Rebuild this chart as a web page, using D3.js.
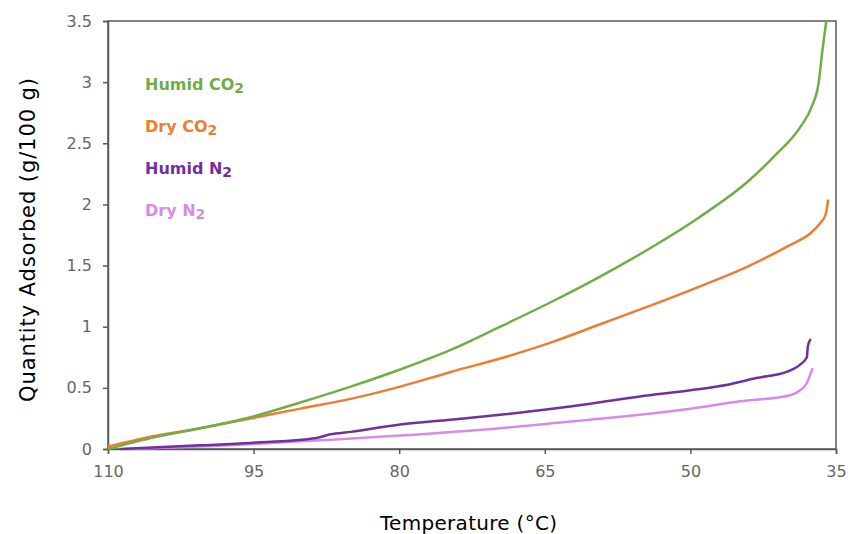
<!DOCTYPE html>
<html>
<head>
<meta charset="utf-8">
<script src="https://cdn.jsdelivr.net/npm/d3@7"></script>
<style>
  body { margin: 0; background: #fff; }
  svg { display: block; font-family: "DejaVu Sans", Verdana, sans-serif; }
</style>
</head>
<body>
<svg id="chart" width="848" height="534"></svg>
<script>
// series: [temperature °C, quantity g/100 g]
var humidCO2 = [[110,0],[105.6,0.09],[100.5,0.17],[95.3,0.26],[90.2,0.38],[85.0,0.51],[79.9,0.65],[74.7,0.81],[69.6,1.0],[64.4,1.2],[59.3,1.41],[54.2,1.64],[49.0,1.9],[43.9,2.2],[41.3,2.4],[38.7,2.63],[37.5,2.8],[36.8,2.99],[36.4,3.26],[36.0,3.5]];
var dryCO2 = [[110,0.02],[105.6,0.1],[100.5,0.17],[95.3,0.25],[90.2,0.33],[85.0,0.41],[79.9,0.51],[74.7,0.63],[69.6,0.74],[64.4,0.87],[59.3,1.02],[54.2,1.17],[49.0,1.33],[43.9,1.5],[39.7,1.67],[37.7,1.76],[36.6,1.85],[36.1,1.91],[35.8,2.04]];
var humidN2 = [[108.7,0],[100.5,0.03],[95.3,0.05],[88.5,0.09],[87.1,0.12],[85.0,0.14],[79.9,0.2],[74.7,0.24],[69.6,0.28],[60.3,0.37],[55.2,0.43],[50.0,0.48],[45.9,0.53],[43.2,0.58],[40.1,0.63],[38.7,0.69],[38.0,0.75],[37.9,0.84],[37.6,0.9]];
var dryN2 = [[108.2,0],[100.5,0.02],[95.3,0.04],[88.5,0.07],[79.9,0.11],[69.6,0.17],[60.3,0.24],[55.2,0.28],[50.0,0.33],[44.9,0.39],[39.7,0.44],[38.7,0.48],[38.0,0.54],[37.6,0.62],[37.4,0.66]];

var seriesNames = ["Humid CO", "Dry CO", "Humid N", "Dry N"];
var seriesColors = ["#70ad47", "#ed7d31", "#7030a0", "#d68ce6"];
var xTicks = [110, 95, 80, 65, 50, 35];
var yTicks = [0, 0.5, 1, 1.5, 2, 2.5, 3, 3.5];

var margin = { top: 21, right: 12, bottom: 85, left: 108 },
    width = 848 - margin.left - margin.right,
    height = 534 - margin.top - margin.bottom;

var svg = d3.select("#chart");
var g = svg.append("g")
    .attr("transform", `translate(${margin.left},${margin.top})`);

var x = d3.scaleLinear().domain([110, 35]).range([0, width]);
var y = d3.scaleLinear().domain([0, 3.5]).range([height, 0]);

// plot frame
g.append("rect")
    .attr("width", width)
    .attr("height", height)
    .attr("fill", "none")
    .attr("stroke", "#595959")
    .attr("stroke-width", 1.5);

var xAxis = g.append("g")
    .attr("transform", `translate(0,${height})`)
    .call(d3.axisBottom(x).tickValues(xTicks).tickSize(5).tickPadding(12).tickFormat(d3.format("d")));
var yAxis = g.append("g")
    .call(d3.axisLeft(y).tickValues(yTicks).tickSize(5).tickPadding(11).tickFormat(d => d));

[xAxis, yAxis].forEach(function(a) {
    a.select(".domain").attr("stroke", "#595959").attr("stroke-width", 1.5);
    a.selectAll(".tick line").attr("stroke", "#595959").attr("stroke-width", 1.5);
    a.selectAll(".tick text")
        .attr("fill", "#666")
        .style("font-size", "16px")
        .style("font-family", "DejaVu Sans, Verdana, sans-serif");
});

var line = d3.line()
    .x(d => x(d[0]))
    .y(d => y(d[1]))
    .curve(d3.curveMonotoneX);

[dryN2, humidN2, dryCO2, humidCO2].forEach(function(s, i) {
    g.append("path")
        .datum(s)
        .attr("fill", "none")
        .attr("stroke", seriesColors[3 - i])
        .attr("stroke-width", 2.5)
        .attr("stroke-linejoin", "round")
        .attr("d", line);
});

// legend labels with subscript 2
seriesNames.forEach(function(name, i) {
    var t = svg.append("text")
        .attr("x", 145)
        .attr("y", 90 + i * 42)
        .attr("fill", seriesColors[i])
        .style("font-size", "16px")
        .style("font-weight", "bold");
    t.append("tspan").text(name);
    t.append("tspan").attr("dy", 3).style("font-size", "14px").text("2");
});

// axis titles
svg.append("text")
    .attr("x", 468.5)
    .attr("y", 530)
    .attr("text-anchor", "middle")
    .attr("textLength", 177)
    .attr("lengthAdjust", "spacing")
    .style("font-size", "20px")
    .text("Temperature (°C)");

svg.append("text")
    .attr("transform", "translate(35,240) rotate(-90)")
    .attr("text-anchor", "middle")
    .attr("textLength", 324)
    .attr("lengthAdjust", "spacing")
    .style("font-size", "21px")
    .text("Quantity Adsorbed (g/100 g)");
</script>
</body>
</html>
